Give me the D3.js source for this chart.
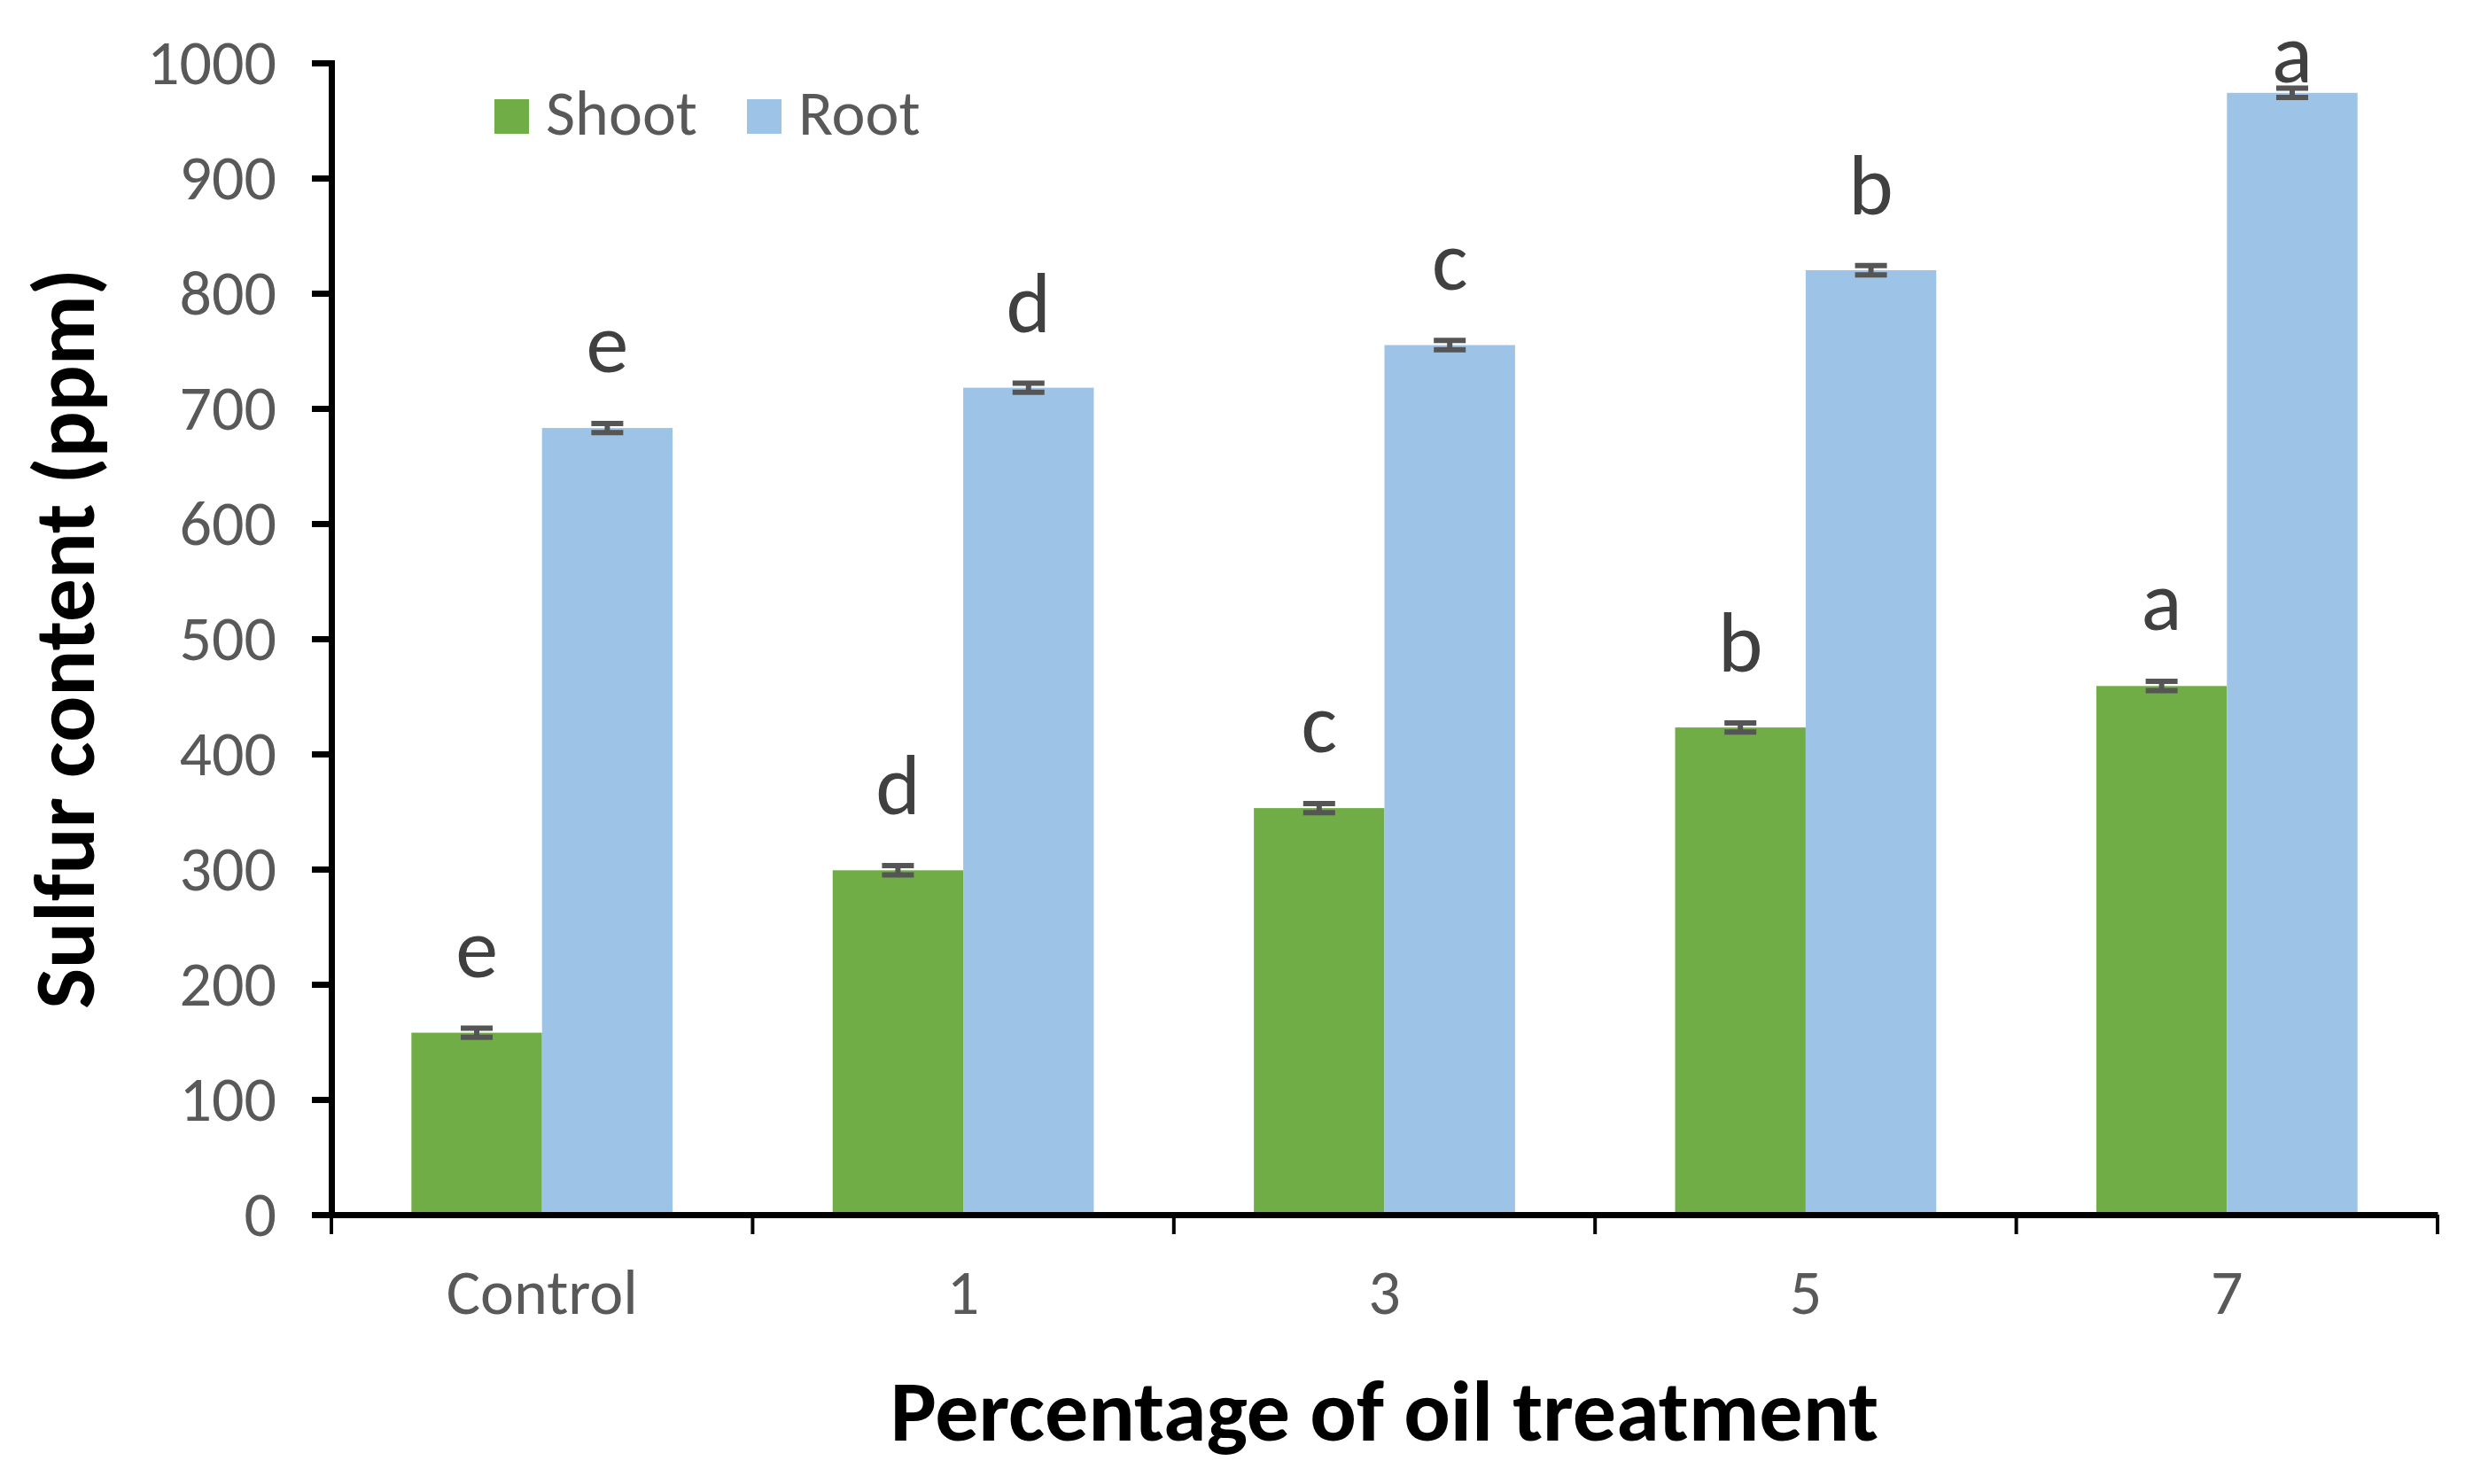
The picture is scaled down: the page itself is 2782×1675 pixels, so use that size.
<!DOCTYPE html>
<html>
<head>
<meta charset="utf-8">
<script src="https://cdn.jsdelivr.net/npm/d3@7"></script>
<style>
  body { margin: 0; background: #fff; }
  text { font-family: Carlito, Calibri, Lato, "Open Sans", sans-serif; }
</style>
</head>
<body>
<div id="chart"></div>
<script>
// data
const treatments = ["Control", "1", "3", "5", "7"];
const seriesNames = ["Shoot", "Root"];
const shootValues = [158, 299, 353, 423, 459];
const rootValues = [683, 718, 755, 820, 974];
const shootErr = [4, 4, 4, 4, 4];
const rootErr = [4, 4, 4, 4, 4];
const shootLetters = ["e", "d", "c", "b", "a"];
const rootLetters = ["e", "d", "c", "b", "a"];
const yTicks = [0, 100, 200, 300, 400, 500, 600, 700, 800, 900, 1000];

const colors = ["#70AD47", "#9DC3E6"];

const svgWidth = 2782
const svgHeight = 1675
const margin = {top: 71, right: 31, bottom: 304, left: 374}
const width = svgWidth - margin.left - margin.right
const height = svgHeight - margin.top - margin.bottom

let svg = d3.select("#chart")
    .append("svg")
    .attr("width", svgWidth)
    .attr("height", svgHeight)

let g = svg.append("g")
    .attr("transform", `translate(${margin.left},${margin.top})`)

const x = d3.scaleBand()
    .domain(treatments)
    .range([0, width])

const x1 = d3.scaleBand()
    .domain(seriesNames)
    .range([x.bandwidth() * 0.19, x.bandwidth() * 0.81])

const y = d3.scaleLinear()
    .domain([0, 1000])
    .range([height, 0])

// build rows for the bars
const rows = []
treatments.forEach((t, i) => {
    rows.push({t: t, s: "Shoot", v: shootValues[i], e: shootErr[i], l: shootLetters[i], c: colors[0]})
    rows.push({t: t, s: "Root", v: rootValues[i], e: rootErr[i], l: rootLetters[i], c: colors[1]})
})

const cx = d => x(d.t) + x1(d.s) + x1.bandwidth() / 2

g.selectAll("rect.bar")
    .data(rows)
    .enter()
    .append("rect")
    .attr("class", "bar")
    .attr("x", d => x(d.t) + x1(d.s))
    .attr("y", d => y(d.v))
    .attr("width", x1.bandwidth())
    .attr("height", d => height - y(d.v))
    .attr("fill", d => d.c)

// error bars
const capW = 36
const eb = g.selectAll("g.err")
    .data(rows)
    .enter()
    .append("g")
    .attr("class", "err")
    .attr("stroke", "#555555")
    .attr("stroke-width", 6)

eb.append("line")
    .attr("x1", cx)
    .attr("x2", cx)
    .attr("y1", d => y(d.v + d.e))
    .attr("y2", d => y(d.v - d.e))

eb.selectAll("line.cap")
    .data(d => [{d: d, v: d.v + d.e}, {d: d, v: d.v - d.e}])
    .enter()
    .append("line")
    .attr("class", "cap")
    .attr("x1", c => cx(c.d) - capW / 2)
    .attr("x2", c => cx(c.d) + capW / 2)
    .attr("y1", c => y(c.v))
    .attr("y2", c => y(c.v))

// significance letters (kept inside the top of the figure)
g.selectAll("text.letter")
    .data(rows)
    .enter()
    .append("text")
    .attr("class", "letter")
    .attr("x", cx)
    .attr("y", d => Math.max(y(d.v) - 63, 22))
    .attr("text-anchor", "middle")
    .attr("font-size", 96)
    .attr("fill", "#404040")
    .text(d => d.l)

// y axis
const yAxis = g.append("g")
    .call(d3.axisLeft(y).tickValues(yTicks).tickFormat(d3.format("d")).tickSize(22).tickPadding(40))
yAxis.select(".domain").attr("stroke", "#000").attr("stroke-width", 7)
yAxis.selectAll(".tick line").attr("stroke", "#000").attr("stroke-width", 7)
yAxis.selectAll(".tick text")
    .attr("font-size", 72)
    .attr("fill", "#595959")

// x axis
const xAxis = g.append("g")
    .attr("transform", `translate(0,${height})`)
    .call(d3.axisBottom(x).tickSize(0))
xAxis.select(".domain").attr("stroke", "#000").attr("stroke-width", 7)
xAxis.selectAll(".tick text")
    .attr("y", 112)
    .attr("dy", 0)
    .attr("font-size", 72)
    .attr("fill", "#595959")

// category boundary ticks
const bounds = treatments.map(t => x(t)).concat([width])
g.selectAll("line.xtick")
    .data(bounds)
    .enter()
    .append("line")
    .attr("class", "xtick")
    .attr("x1", d => d)
    .attr("x2", d => d)
    .attr("y1", height)
    .attr("y2", height + 22)
    .attr("stroke", "#000")
    .attr("stroke-width", 4)

// axis titles
svg.append("text")
    .attr("transform", `translate(106,${margin.top + height / 2}) rotate(-90)`)
    .attr("text-anchor", "middle")
    .attr("font-size", 97)
    .attr("font-weight", "bold")
    .attr("fill", "#000")
    .text("Sulfur content (ppm)")

svg.append("text")
    .attr("x", margin.left + width / 2)
    .attr("y", 1626)
    .attr("text-anchor", "middle")
    .attr("font-size", 98)
    .attr("font-weight", "bold")
    .attr("fill", "#000")
    .text("Percentage of oil treatment")

// legend
const legendX = [558, 843]
const legend = svg.selectAll("g.legend")
    .data(seriesNames)
    .enter()
    .append("g")
    .attr("class", "legend")
    .attr("transform", (d, i) => `translate(${legendX[i]},112)`)

legend.append("rect")
    .attr("width", 39)
    .attr("height", 39)
    .attr("fill", (d, i) => colors[i])

legend.append("text")
    .attr("x", 58)
    .attr("y", 40)
    .attr("font-size", 72)
    .attr("fill", "#595959")
    .text(d => d)
</script>
</body>
</html>
